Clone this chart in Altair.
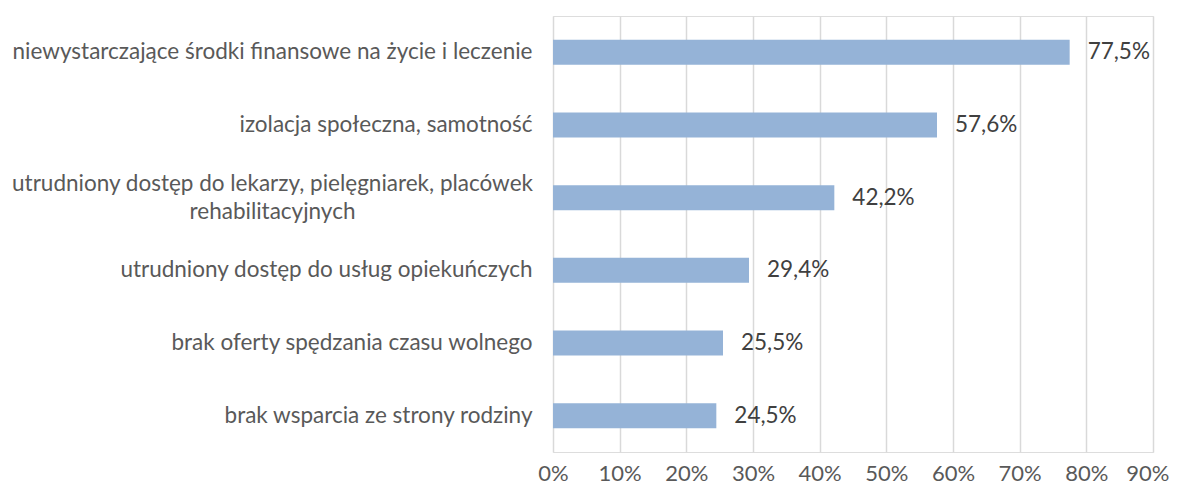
import altair as alt
import pandas as pd

categories = [
    "niewystarczające środki finansowe na życie i leczenie",
    "izolacja społeczna, samotność",
    "utrudniony dostęp do lekarzy, pielęgniarek, placówek\nrehabilitacyjnych",
    "utrudniony dostęp do usług opiekuńczych",
    "brak oferty spędzania czasu wolnego",
    "brak wsparcia ze strony rodziny",
]
values = [77.5, 57.6, 42.2, 29.4, 25.5, 24.5]
x_ticks = [0, 10, 20, 30, 40, 50, 60, 70, 80, 90]

df = pd.DataFrame({
    "cat": categories,
    "val": values,
    "label": [f"{v:.1f}%".replace(".", ",") for v in values],
})

FONT = "Lato"
FS = 22.5
multi = "indexof(datum.value, '\\n') >= 0"
last = "datum.value == 90"

y = alt.Y(
    "cat:N",
    sort=categories,
    scale=alt.Scale(paddingInner=0.656, paddingOuter=0.328),
    axis=alt.Axis(
        title=None,
        labelExpr="split(datum.value, '\\n')",
        ticks=False,
        domain=False,
        labelFont=FONT,
        labelFontSize=FS,
        labelColor="#595959",
        labelLimit=0,
        labelLineHeight=28,
        labelAlign={"condition": {"test": multi, "value": "center"}, "value": "right"},
        labelPadding={"condition": {"test": multi, "value": 281}, "value": 21},
        labelOffset={"condition": {"test": multi, "value": -14}, "value": 0},
    ),
)

x = alt.X(
    "val:Q",
    scale=alt.Scale(domain=[0, 90], nice=False),
    axis=alt.Axis(
        values=x_ticks,
        labelExpr="datum.value + '%'",
        title=None,
        grid=True,
        gridColor="#d9d9d9",
        gridWidth=1.5,
        domain=False,
        ticks=False,
        labelFlush=False,
        labelFont=FONT,
        labelFontSize=22,
        labelPadding=21,
        labelBaseline="middle",
        labelColor="#595959",
        labelAlign={"condition": {"test": last, "value": "right"}, "value": "center"},
        labelOffset={"condition": {"test": last, "value": 16}, "value": 0},
    ),
)

base = alt.Chart(df)
bars = base.mark_bar(color="#95b3d7").encode(x=x, y=y)
text = base.mark_text(align="left", dx=18, font=FONT, fontSize=FS, color="#404040").encode(
    x=alt.X("val:Q"), y=alt.Y("cat:N", sort=categories), text="label:N"
)

chart = (
    alt.layer(bars, text)
    .properties(
        width=600,
        height=436,
        autosize=alt.AutoSizeParams(type="none"),
        padding={"left": 545, "top": 8, "right": 17, "bottom": 36},
    )
    .configure_view(stroke=None)
    .configure(background="white")
)

chart.save("out.html", embed_options={"renderer": "svg", "actions": False})
